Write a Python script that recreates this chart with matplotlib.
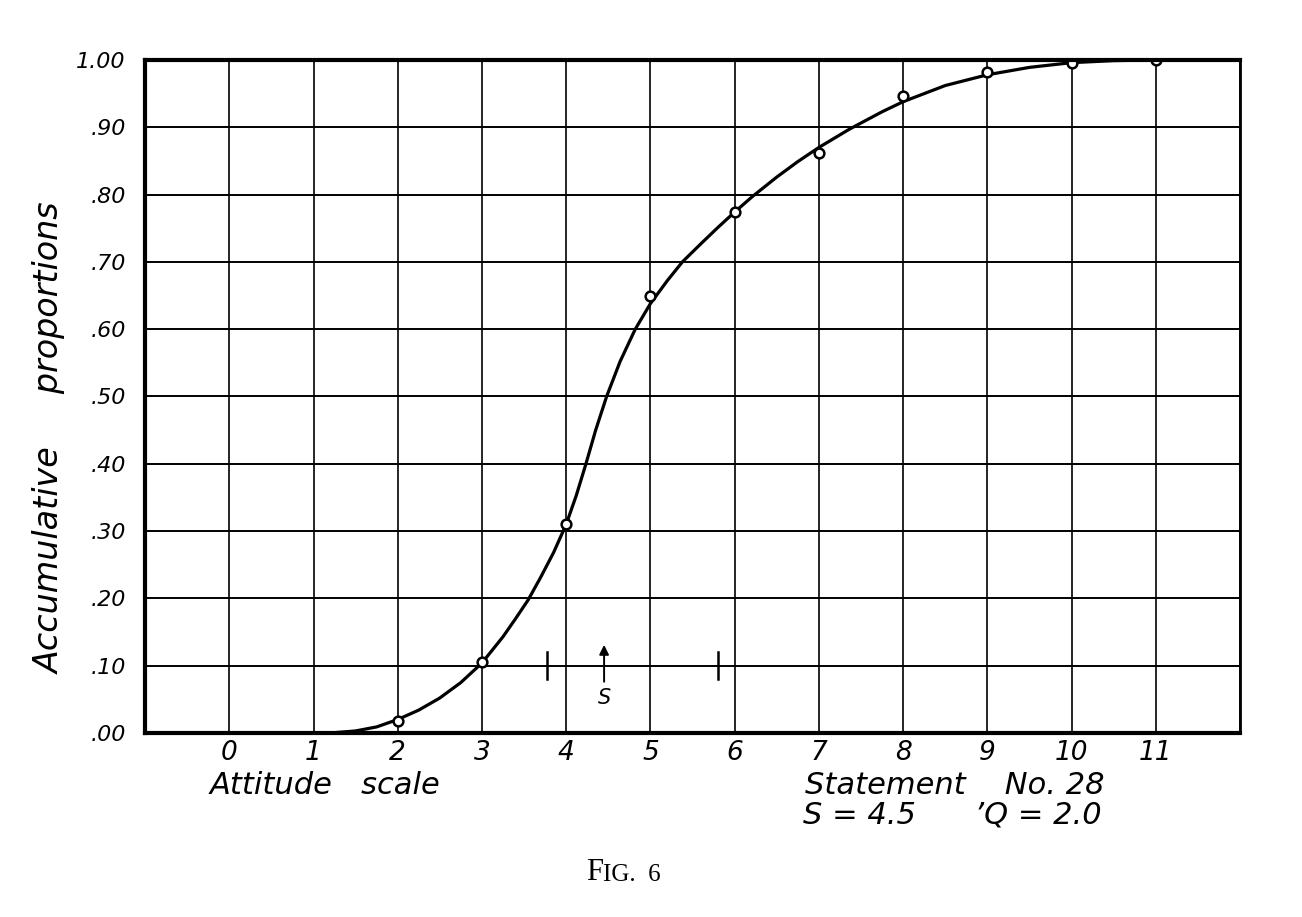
import matplotlib
matplotlib.use('Agg')
import matplotlib.pyplot as plt

# observed points (attitude scale value, accumulative proportion)
scale_pts = [2, 3, 4, 5, 6, 7, 8, 9, 10, 11]
prop_pts = [0.018, 0.105, 0.31, 0.65, 0.774, 0.862, 0.947, 0.982, 0.995, 1.00]

# hand-drawn smooth curve
curve_x = [0.8, 1.2, 1.5, 1.75, 2.0, 2.25, 2.5, 2.75, 3.0, 3.25, 3.4, 3.55,
           3.7, 3.85, 4.0, 4.12, 4.23, 4.35, 4.48, 4.64, 4.82, 5.0, 5.2, 5.38,
           5.6, 5.8, 6.0, 6.21, 6.5, 6.75, 7.0, 7.36, 7.75, 8.0, 8.5, 9.0,
           9.5, 10.0, 10.5, 11.0]
curve_y = [0.0, 0.0, 0.003, 0.009, 0.02, 0.034, 0.052, 0.075, 0.104, 0.143,
           0.17, 0.198, 0.232, 0.268, 0.31, 0.353, 0.398, 0.45, 0.50, 0.552,
           0.60, 0.638, 0.672, 0.70, 0.727, 0.751, 0.774, 0.797, 0.826, 0.849,
           0.87, 0.897, 0.923, 0.938, 0.962, 0.978, 0.989, 0.996, 0.999, 1.0]

quartiles = [3.77, 5.80]
scale_value = 4.45

x_ticks = list(range(0, 12))
y_ticks = [i / 10 for i in range(11)]
y_labels = ['.00', '.10', '.20', '.30', '.40', '.50', '.60', '.70', '.80', '.90', '1.00']

hand = {'family': 'DejaVu Sans', 'style': 'oblique'}

fig = plt.figure(figsize=(13.02, 9.17), dpi=100)
fig.patch.set_facecolor('white')
ax = fig.add_axes([0.1114, 0.2007, 0.8410, 0.7339])

ax.set_xlim(-1, 12)
ax.set_ylim(0, 1.0)

# grid
for gx in range(-1, 13):
    ax.axvline(gx, color='black', lw=1.2, zorder=1)
for gy in y_ticks:
    ax.axhline(gy, color='black', lw=1.4, zorder=1)

ax.plot(curve_x, curve_y, color='black', lw=2.3, zorder=3,
        solid_capstyle='round', solid_joinstyle='round')
ax.plot(scale_pts, prop_pts, 'o', ms=7, mfc='white', mec='black', mew=1.8, zorder=4)

# quartile marks and scale value arrow
for q in quartiles:
    ax.plot([q, q], [0.08, 0.12], color='black', lw=1.8, zorder=3)
ax.annotate('', xy=(scale_value, 0.135), xytext=(scale_value, 0.072),
            arrowprops=dict(arrowstyle='-|>', color='black', lw=1.4,
                            mutation_scale=14), zorder=3)
ax.text(scale_value, 0.052, 'S', ha='center', va='center', fontsize=15, **hand)

ax.set_xticks(x_ticks)
ax.set_xticklabels([str(v) for v in x_ticks], fontsize=19, **hand)
ax.set_yticks(y_ticks)
ax.set_yticklabels(y_labels, fontsize=16, **hand)
ax.tick_params(axis='x', length=0, pad=5)
ax.tick_params(axis='y', length=0, pad=14)

for side, w in [('left', 3), ('bottom', 3), ('top', 3), ('right', 2)]:
    ax.spines[side].set_linewidth(w)
    ax.spines[side].set_zorder(5)

fig.text(50 / 1302, 1 - 438 / 917, 'Accumulative     proportions', fontsize=24,
         rotation=90, ha='center', va='center', **hand)

fig.text(210 / 1302, 1 - 786 / 917, 'Attitude   scale', fontsize=22,
         ha='left', va='center', **hand)
fig.text(805 / 1302, 1 - 786 / 917, 'Statement    No. 28', fontsize=22,
         ha='left', va='center', **hand)
fig.text(803 / 1302, 1 - 815 / 917, 'S = 4.5      \u2019Q = 2.0', fontsize=22,
         ha='left', va='center', **hand)

fig.text(586 / 1302, 1 - 873 / 917, 'F', fontsize=22, ha='left', va='center',
         family='Liberation Serif')
fig.text(603 / 1302, 1 - 875 / 917, 'IG.  6', fontsize=18, ha='left', va='center',
         family='Liberation Serif')

fig.savefig('out.png', dpi=100, facecolor='white')
